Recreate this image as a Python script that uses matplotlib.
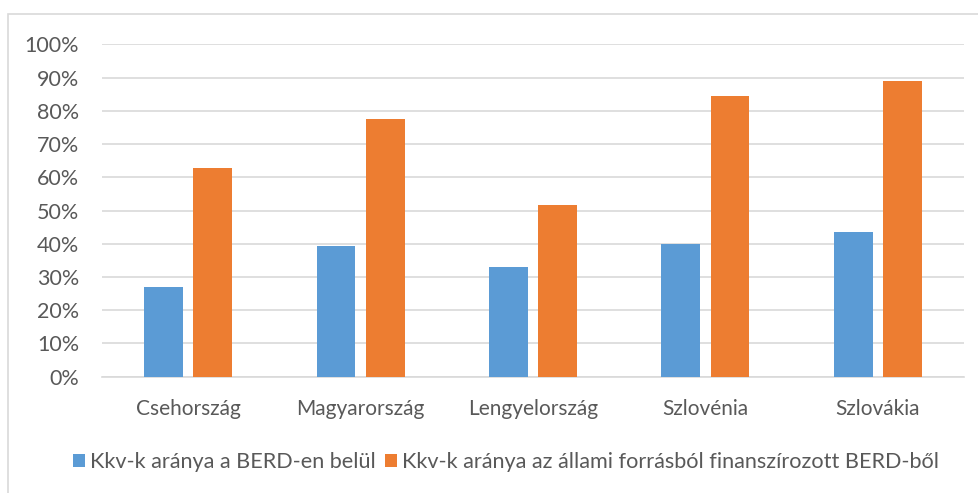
import numpy as np
import matplotlib.pyplot as plt
from matplotlib.patches import Rectangle
from matplotlib.ticker import PercentFormatter

plt.rcParams['font.family'] = ['Lato', 'DejaVu Sans']

countries = ['Csehország', 'Magyarország', 'Lengyelország', 'Szlovénia', 'Szlovákia']
kkv_berd = [0.27, 0.392, 0.33, 0.398, 0.434]
kkv_allami = [0.629, 0.776, 0.516, 0.846, 0.890]
labels = ['Kkv-k aránya a BERD-en belül',
          'Kkv-k aránya az állami forrásból finanszírozott BERD-ből']
colors = ['#5B9BD5', '#ED7D31']

fig = plt.figure(figsize=(9.79, 4.93), dpi=100)
ax = fig.add_axes([0.1042, 0.2359, 0.8805, 0.6742])

x = np.arange(len(countries))
w = 0.2245
off = w / 2 + 0.0305
ax.bar(x - off, kkv_berd, w, color=colors[0], label=labels[0], zorder=3)
ax.bar(x + off, kkv_allami, w, color=colors[1], label=labels[1], zorder=3)

ax.set_xlim(-0.5, len(countries) - 0.5)
ax.set_ylim(0, 1)
ax.set_yticks(np.arange(0, 1.01, 0.1))
ax.yaxis.set_major_formatter(PercentFormatter(1.0, decimals=0))
ax.set_xticks(x)
ax.set_xticklabels(countries)
ax.tick_params(axis='both', length=0, labelsize=15, colors='#595959')
ax.tick_params(axis='y', labelsize=15.5, pad=16.5)
ax.tick_params(axis='x', pad=16)
ax.grid(axis='y', color='#d9d9d9', lw=1.2, zorder=0)
for s in ['top', 'right', 'left']:
    ax.spines[s].set_visible(False)
ax.spines['bottom'].set_color('#d9d9d9')
ax.spines['bottom'].set_linewidth(1.2)

fig.legend(loc='center', bbox_to_anchor=(0.517, 0.063), ncol=2, frameon=False,
           fontsize=15.6, labelcolor='#595959', handlelength=0.55, handleheight=0.55,
           handletextpad=0.25, columnspacing=0.4)

# chart frame
fig.add_artist(Rectangle((8 / 979, -0.02), 1.0, 0.9916, transform=fig.transFigure,
                         fill=False, edgecolor='#d9d9d9', lw=1.2))

fig.savefig('out.png', dpi=100)
